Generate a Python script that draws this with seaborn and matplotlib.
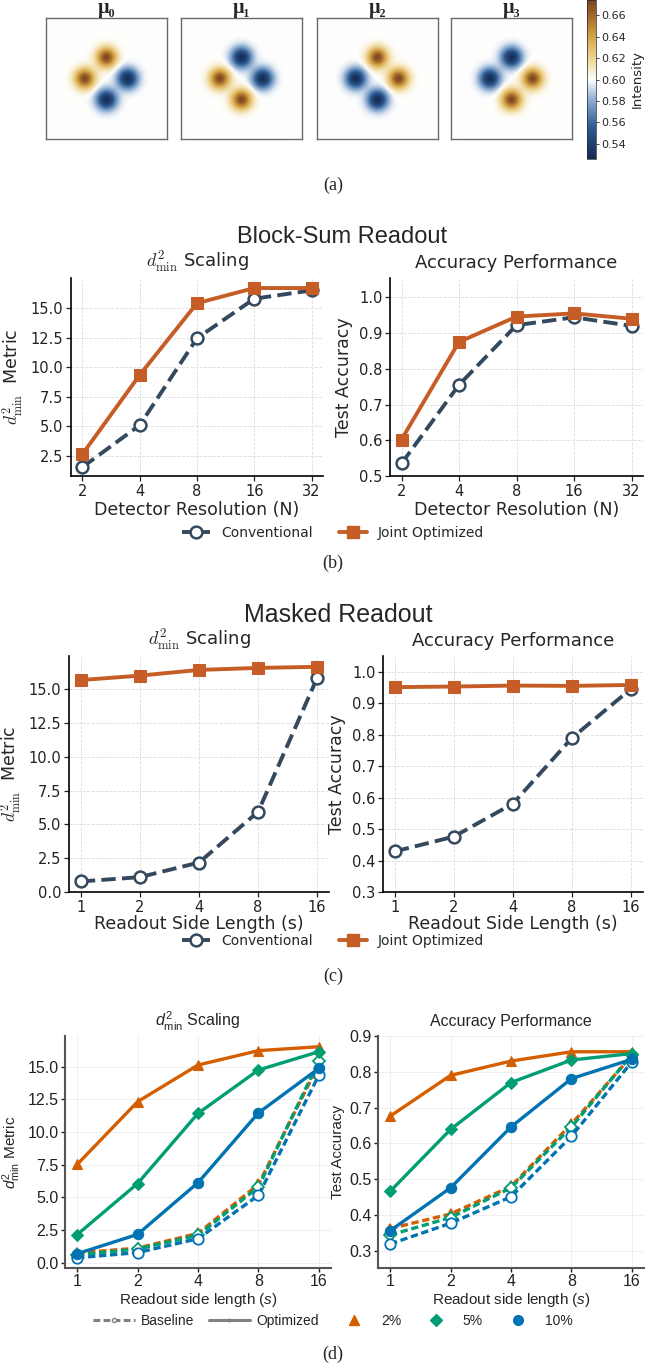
import numpy as np
import matplotlib
matplotlib.use("Agg")
import matplotlib.pyplot as plt
import seaborn as sns
from matplotlib.colors import LinearSegmentedColormap
from matplotlib.lines import Line2D
from matplotlib.ticker import FixedLocator, FixedFormatter, NullLocator, FormatStrFormatter

# ---------------- data ----------------
# (a) class-mean patterns: signs of the four blobs [top, left, right, bottom]
MU_NAMES = ["μ₀", "μ₁", "μ₂", "μ₃"]
MU_SIGNS = [[+1, +1, -1, -1],
            [-1, +1, -1, +1],
            [+1, -1, +1, -1],
            [-1, -1, +1, +1]]
BLOB_CENTERS = [(0.50, 0.325), (0.32, 0.50), (0.675, 0.50), (0.50, 0.675)]
BLOB_SIGMA = 0.058
BLOB_AMP = 0.072
BASE_INTENSITY = 0.60
CBAR_TICKS = [0.54, 0.56, 0.58, 0.60, 0.62, 0.64, 0.66]

# (b) block-sum readout
N_RES = [2, 4, 8, 16, 32]
B_DMIN_CONV = [1.55, 5.1, 12.45, 15.8, 16.5]
B_DMIN_JOINT = [2.65, 9.35, 15.42, 16.7, 16.7]
B_ACC_CONV = [0.535, 0.755, 0.922, 0.944, 0.920]
B_ACC_JOINT = [0.602, 0.875, 0.946, 0.955, 0.940]

# (c) masked readout
S_LEN = [1, 2, 4, 8, 16]
C_DMIN_CONV = [0.78, 1.1, 2.18, 5.93, 15.83]
C_DMIN_JOINT = [15.67, 16.0, 16.42, 16.57, 16.65]
C_ACC_CONV = [0.429, 0.476, 0.581, 0.790, 0.946]
C_ACC_JOINT = [0.951, 0.953, 0.956, 0.955, 0.958]

# (d) noise levels
NOISE = ["2%", "5%", "10%"]
D_DMIN_OPT = {"2%": [7.52, 12.32, 15.13, 16.23, 16.53],
              "5%": [2.15, 6.06, 11.43, 14.75, 16.15],
              "10%": [0.69, 2.17, 6.13, 11.47, 14.88]}
D_DMIN_BASE = {"2%": [0.75, 1.12, 2.25, 6.0, 15.2],
               "5%": [0.6, 1.05, 2.1, 5.8, 15.45],
               "10%": [0.38, 0.78, 1.84, 5.16, 14.36]}
D_ACC_OPT = {"2%": [0.676, 0.790, 0.830, 0.856, 0.856],
             "5%": [0.466, 0.639, 0.770, 0.833, 0.851],
             "10%": [0.356, 0.476, 0.646, 0.781, 0.835]}
D_ACC_BASE = {"2%": [0.362, 0.403, 0.480, 0.654, 0.845],
              "5%": [0.344, 0.393, 0.476, 0.646, 0.848],
              "10%": [0.319, 0.377, 0.451, 0.620, 0.828]}

# ---------------- style ----------------
sns.set_style("white")
plt.rcParams["font.family"] = ["DejaVu Sans"]
plt.rcParams["mathtext.fontset"] = "dejavusans"
plt.rcParams["mathtext.rm"] = "Liberation Sans"
plt.rcParams["mathtext.it"] = "Liberation Sans:italic"
plt.rcParams["mathtext.bf"] = "Liberation Sans:bold"

W, H = 667, 1365
fig = plt.figure(figsize=(W / 100, H / 100), dpi=100)
fig.patch.set_facecolor("white")


def rect(x0, y0, x1, y1):
    return [x0 / W, 1 - y1 / H, (x1 - x0) / W, (y1 - y0) / H]


C_CONV = "#34495E"
C_JOINT = "#C65D26"
NOISE_COL = {"2%": "#D55E00", "5%": "#029E73", "10%": "#0173B2"}
NOISE_MK = {"2%": "^", "5%": "D", "10%": "o"}
NOISE_MS = {"2%": 7.5, "5%": 6.5, "10%": 7.5}

# ---------------- (a) ----------------
cmap = LinearSegmentedColormap.from_list(
    "vik_like",
    [(0.0, "#172a52"), (0.2, "#2c5a92"), (0.38, "#93b1d4"), (0.5, "#ffffff"),
     (0.62, "#f0d89a"), (0.78, "#d2a142"), (0.9, "#a46a2c"), (1.0, "#774421")])
vmin, vmax = 0.526, 0.674
g = np.linspace(0, 1, 240)
XX, YY = np.meshgrid(g, g)
boxes = [(46, 18, 167, 139), (181, 18, 302, 139), (317, 18, 438, 139), (451, 18, 572, 139)]
im = None
for name, signs, b in zip(MU_NAMES, MU_SIGNS, boxes):
    ax = fig.add_axes(rect(*b))
    img = np.full_like(XX, BASE_INTENSITY)
    for s, (cx, cy) in zip(signs, BLOB_CENTERS):
        img += s * BLOB_AMP * np.exp(-((XX - cx) ** 2 + (YY - cy) ** 2) / (2 * BLOB_SIGMA ** 2))
    im = ax.imshow(img, cmap=cmap, vmin=vmin, vmax=vmax, interpolation="bilinear",
                   aspect="auto", extent=(0, 1, 1, 0))
    ax.set_xticks([])
    ax.set_yticks([])
    for sp in ax.spines.values():
        sp.set_visible(True)
        sp.set_color("#6a6a6a")
        sp.set_linewidth(1.0)
    ax.set_title(name, family=["Liberation Serif", "DejaVu Serif"], fontweight="bold",
                 fontsize=14.5, pad=0.5)

cax = fig.add_axes(rect(587, 0, 596, 159))
cb = fig.colorbar(im, cax=cax, ticks=CBAR_TICKS)
cb.ax.yaxis.set_major_formatter(FormatStrFormatter("%.2f"))
cb.ax.tick_params(labelsize=8, length=2.5, width=0.6, pad=1.5)
cb.outline.set_linewidth(0.5)
cb.set_label("Intensity", fontsize=9.5, labelpad=3)

# ---------------- helpers ----------------
def style_bc(ax, xticks, ylim, yticks, yfmt, xlabel, ylabel, title, xlabelpad=2):
    ax.set_xscale("log", base=2)
    ax.xaxis.set_major_locator(FixedLocator(xticks))
    ax.xaxis.set_major_formatter(FixedFormatter([str(v) for v in xticks]))
    ax.xaxis.set_minor_locator(NullLocator())
    ax.set_ylim(*ylim)
    ax.set_yticks(yticks)
    ax.yaxis.set_major_formatter(FormatStrFormatter(yfmt))
    for s in ["top", "right"]:
        ax.spines[s].set_visible(False)
    for s in ["left", "bottom"]:
        ax.spines[s].set_color("black")
        ax.spines[s].set_linewidth(1.2)
    ax.grid(True, color="#dcdcdc", linestyle="--", linewidth=0.6)
    ax.set_axisbelow(True)
    ax.tick_params(axis="both", labelsize=10.5, length=3.5, width=0.9, colors="#222222",
                   bottom=True, left=True, pad=2)
    ax.set_xlabel(xlabel, fontsize=12.5, labelpad=xlabelpad)
    ax.set_ylabel(ylabel, fontsize=12.5, labelpad=4, math_fontfamily="cm")
    ax.set_title(title, fontsize=13, math_fontfamily="cm", pad=7)


def plot_pair(ax, x, conv, joint):
    sns.lineplot(x=x, y=conv, ax=ax, color=C_CONV, linestyle="--", linewidth=2.8,
                 marker="o", markersize=8.5, markerfacecolor="white",
                 markeredgecolor=C_CONV, markeredgewidth=1.8, legend=False)
    sns.lineplot(x=x, y=joint, ax=ax, color=C_JOINT, linewidth=2.8,
                 marker="s", markersize=8, markeredgecolor=C_JOINT, legend=False)


def pair_legend(y):
    h = [Line2D([], [], color=C_CONV, linestyle="--", linewidth=2.8, marker="o", markersize=8.5,
                markerfacecolor="white", markeredgecolor=C_CONV, markeredgewidth=1.8),
         Line2D([], [], color=C_JOINT, linewidth=2.8, marker="s", markersize=8)]
    fig.legend(h, ["Conventional", "Joint Optimized"], loc="center",
               bbox_to_anchor=(333 / W, 1 - y / H), ncol=2, frameon=False, fontsize=10,
               handlelength=2.0, handletextpad=0.8, columnspacing=1.9)


DMIN_CM = r"$d^2_{\min}$"

# ---------------- (b) ----------------
fig.text(342 / W, 1 - 237 / H, "Block-Sum Readout", family="Liberation Sans", fontsize=17,
         ha="center", va="center")
axb1 = fig.add_axes(rect(71, 278, 323, 476))
plot_pair(axb1, N_RES, B_DMIN_CONV, B_DMIN_JOINT)
style_bc(axb1, N_RES, (0.8, 17.55), [2.5, 5.0, 7.5, 10.0, 12.5, 15.0], "%.1f",
         "Detector Resolution (N)", DMIN_CM + "  Metric", DMIN_CM + " Scaling")
axb2 = fig.add_axes(rect(390, 278, 643, 476))
plot_pair(axb2, N_RES, B_ACC_CONV, B_ACC_JOINT)
style_bc(axb2, N_RES, (0.5, 1.054), [0.5, 0.6, 0.7, 0.8, 0.9, 1.0], "%.1f",
         "Detector Resolution (N)", "Test Accuracy", "Accuracy Performance")
pair_legend(533)

# ---------------- (c) ----------------
fig.text(338 / W, 1 - 615 / H, "Masked Readout", family="Liberation Sans", fontsize=18,
         ha="center", va="center")
axc1 = fig.add_axes(rect(69, 656, 329, 892))
plot_pair(axc1, S_LEN, C_DMIN_CONV, C_DMIN_JOINT)
style_bc(axc1, S_LEN, (0.0, 17.45), [0.0, 2.5, 5.0, 7.5, 10.0, 12.5, 15.0], "%.1f",
         "Readout Side Length (s)", DMIN_CM + "  Metric", DMIN_CM + " Scaling", xlabelpad=0)
axc2 = fig.add_axes(rect(383, 656, 643, 892))
plot_pair(axc2, S_LEN, C_ACC_CONV, C_ACC_JOINT)
style_bc(axc2, S_LEN, (0.3, 1.05), [0.3, 0.4, 0.5, 0.6, 0.7, 0.8, 0.9, 1.0], "%.1f",
         "Readout Side Length (s)", "Test Accuracy", "Accuracy Performance", xlabelpad=0)
pair_legend(941)

# ---------------- (d) ----------------
SANS = "Liberation Sans"


def style_d(ax, ylim, yticks, ylabel, title):
    ax.set_xscale("log", base=2)
    ax.xaxis.set_major_locator(FixedLocator(S_LEN))
    ax.xaxis.set_major_formatter(FixedFormatter([str(v) for v in S_LEN]))
    ax.xaxis.set_minor_locator(NullLocator())
    ax.set_ylim(*ylim)
    ax.set_yticks(yticks)
    ax.yaxis.set_major_formatter(FormatStrFormatter("%.1f"))
    for s in ["top", "right"]:
        ax.spines[s].set_visible(False)
    for s in ["left", "bottom"]:
        ax.spines[s].set_color("#555555")
        ax.spines[s].set_linewidth(1.5)
    ax.grid(True, color="#ececec", linewidth=0.6)
    ax.set_axisbelow(True)
    ax.tick_params(axis="both", labelsize=11.5, length=3, width=1.0, colors="#222222",
                   bottom=True, left=True, pad=1.5)
    for lab in ax.get_xticklabels() + ax.get_yticklabels():
        lab.set_fontfamily(SANS)
    ax.set_xlabel(r"Readout side length ($s$)", fontsize=11, family=SANS,
                  math_fontfamily="custom", labelpad=1)
    ax.set_ylabel(ylabel, fontsize=11, family=SANS, math_fontfamily="custom", labelpad=3)
    ax.set_title(title, fontsize=11.5, family=SANS, math_fontfamily="custom", pad=7)


def plot_noise(ax, base, opt):
    for n in NOISE:
        sns.lineplot(x=S_LEN, y=base[n], ax=ax, color=NOISE_COL[n], linestyle=(0, (2.2, 1.1)),
                     linewidth=2.4, marker=NOISE_MK[n], markersize=NOISE_MS[n],
                     markerfacecolor="white", markeredgecolor=NOISE_COL[n],
                     markeredgewidth=1.3, legend=False)
    for n in NOISE:
        sns.lineplot(x=S_LEN, y=opt[n], ax=ax, color=NOISE_COL[n], linewidth=2.4,
                     marker=NOISE_MK[n], markersize=NOISE_MS[n],
                     markeredgecolor=NOISE_COL[n], legend=False)


axd1 = fig.add_axes(rect(65, 1036, 331, 1268))
plot_noise(axd1, D_DMIN_BASE, D_DMIN_OPT)
style_d(axd1, (-0.4, 17.35), [0.0, 2.5, 5.0, 7.5, 10.0, 12.5, 15.0],
        r"$d^2_{\mathrm{min}}$ Metric", r"$d^2_{\mathrm{min}}$ Scaling")
axd2 = fig.add_axes(rect(378, 1036, 644, 1268))
plot_noise(axd2, D_ACC_BASE, D_ACC_OPT)
style_d(axd2, (0.252, 0.9), [0.3, 0.4, 0.5, 0.6, 0.7, 0.8, 0.9],
        "Test Accuracy", "Accuracy Performance")

hd = [Line2D([], [], color="#808080", linestyle=(0, (2.2, 1.1)), linewidth=2.2, marker="o",
             markersize=3, markerfacecolor="white", markeredgecolor="#808080"),
      Line2D([], [], color="#808080", linewidth=2.2, marker="+", markersize=3),
      Line2D([], [], color=NOISE_COL["2%"], linestyle="none", marker="^", markersize=7),
      Line2D([], [], color=NOISE_COL["5%"], linestyle="none", marker="D", markersize=6.5),
      Line2D([], [], color=NOISE_COL["10%"], linestyle="none", marker="o", markersize=7)]
fig.legend(hd, ["Baseline", "Optimized"] + NOISE, loc="center",
           bbox_to_anchor=(333 / W, 1 - 1321 / H), ncol=5, frameon=False,
           prop={"family": SANS, "size": 10}, handlelength=3.0, handletextpad=0.45,
           columnspacing=1.0)

# ---------------- captions ----------------
for lab, y in [("(a)", 185), ("(b)", 563), ("(c)", 976), ("(d)", 1354)]:
    fig.text(333 / W, 1 - y / H, lab, family="Liberation Serif", fontsize=13,
             ha="center", va="center")

fig.savefig("out.png", dpi=100, facecolor="white")
